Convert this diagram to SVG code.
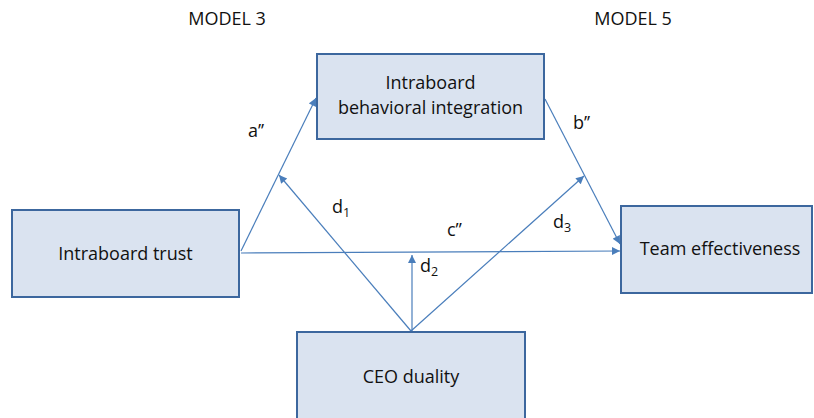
<svg xmlns="http://www.w3.org/2000/svg" width="814" height="418" viewBox="0 0 814 418">
  <style>
    .box { fill: #dae3f0; stroke: #3c679e; stroke-width: 2; }
    .lbl { font-family: "Open Sans", "Liberation Sans", sans-serif; font-size: 18px; fill: #111; }
    .edge { stroke: #4a7ebb; stroke-width: 1.2; fill: none; marker-end: url(#arrow); }
    .sub { font-size: 12.5px; }
  </style>
  <defs>
    <marker id="arrow" viewBox="0 0 10 10" refX="10" refY="5" markerWidth="10" markerHeight="8" markerUnits="userSpaceOnUse" orient="auto">
      <path d="M0,0 L10,5 L0,10 z" fill="#4a7ebb"/>
    </marker>
  </defs>
  <rect width="814" height="418" fill="#ffffff"/>

  <text class="lbl" x="227" y="25" text-anchor="middle">MODEL 3</text>
  <text class="lbl" x="633" y="25" text-anchor="middle">MODEL 5</text>

  <g id="connectors">
    <line class="edge" x1="241" y1="251" x2="316" y2="98"/>
    <line class="edge" x1="545" y1="99" x2="620" y2="244"/>
    <line class="edge" x1="241" y1="253" x2="620" y2="251"/>
    <line class="edge" x1="411" y1="331" x2="279" y2="175"/>
    <line class="edge" x1="411" y1="331" x2="584" y2="176"/>
    <line class="edge" x1="412" y1="331" x2="412" y2="255"/>
    <text class="lbl" x="248" y="137">a’’</text>
    <text class="lbl" x="573" y="129">b’’</text>
    <text class="lbl" x="447" y="236">c’’</text>
    <text class="lbl" x="332" y="213">d<tspan class="sub" dy="4">1</tspan></text>
    <text class="lbl" x="420" y="272">d<tspan class="sub" dy="4">2</tspan></text>
    <text class="lbl" x="553" y="228">d<tspan class="sub" dy="4">3</tspan></text>
  </g>

  <g id="behavioral-integration">
    <rect class="box" x="317" y="54" width="227" height="85"/>
    <text class="lbl" x="430.5" y="89" text-anchor="middle">Intraboard</text>
    <text class="lbl" x="430.5" y="114" text-anchor="middle">behavioral integration</text>
  </g>
  <g id="trust">
    <rect class="box" x="12" y="210" width="227" height="87"/>
    <text class="lbl" x="125.5" y="260" text-anchor="middle">Intraboard trust</text>
  </g>
  <g id="team-effectiveness">
    <rect class="box" x="621" y="206" width="191" height="87"/>
    <text class="lbl" x="720" y="255" text-anchor="middle">Team effectiveness</text>
  </g>
  <g id="ceo-duality">
    <rect class="box" x="297" y="332" width="228" height="90"/>
    <text class="lbl" x="411" y="383" text-anchor="middle">CEO duality</text>
  </g>
</svg>
